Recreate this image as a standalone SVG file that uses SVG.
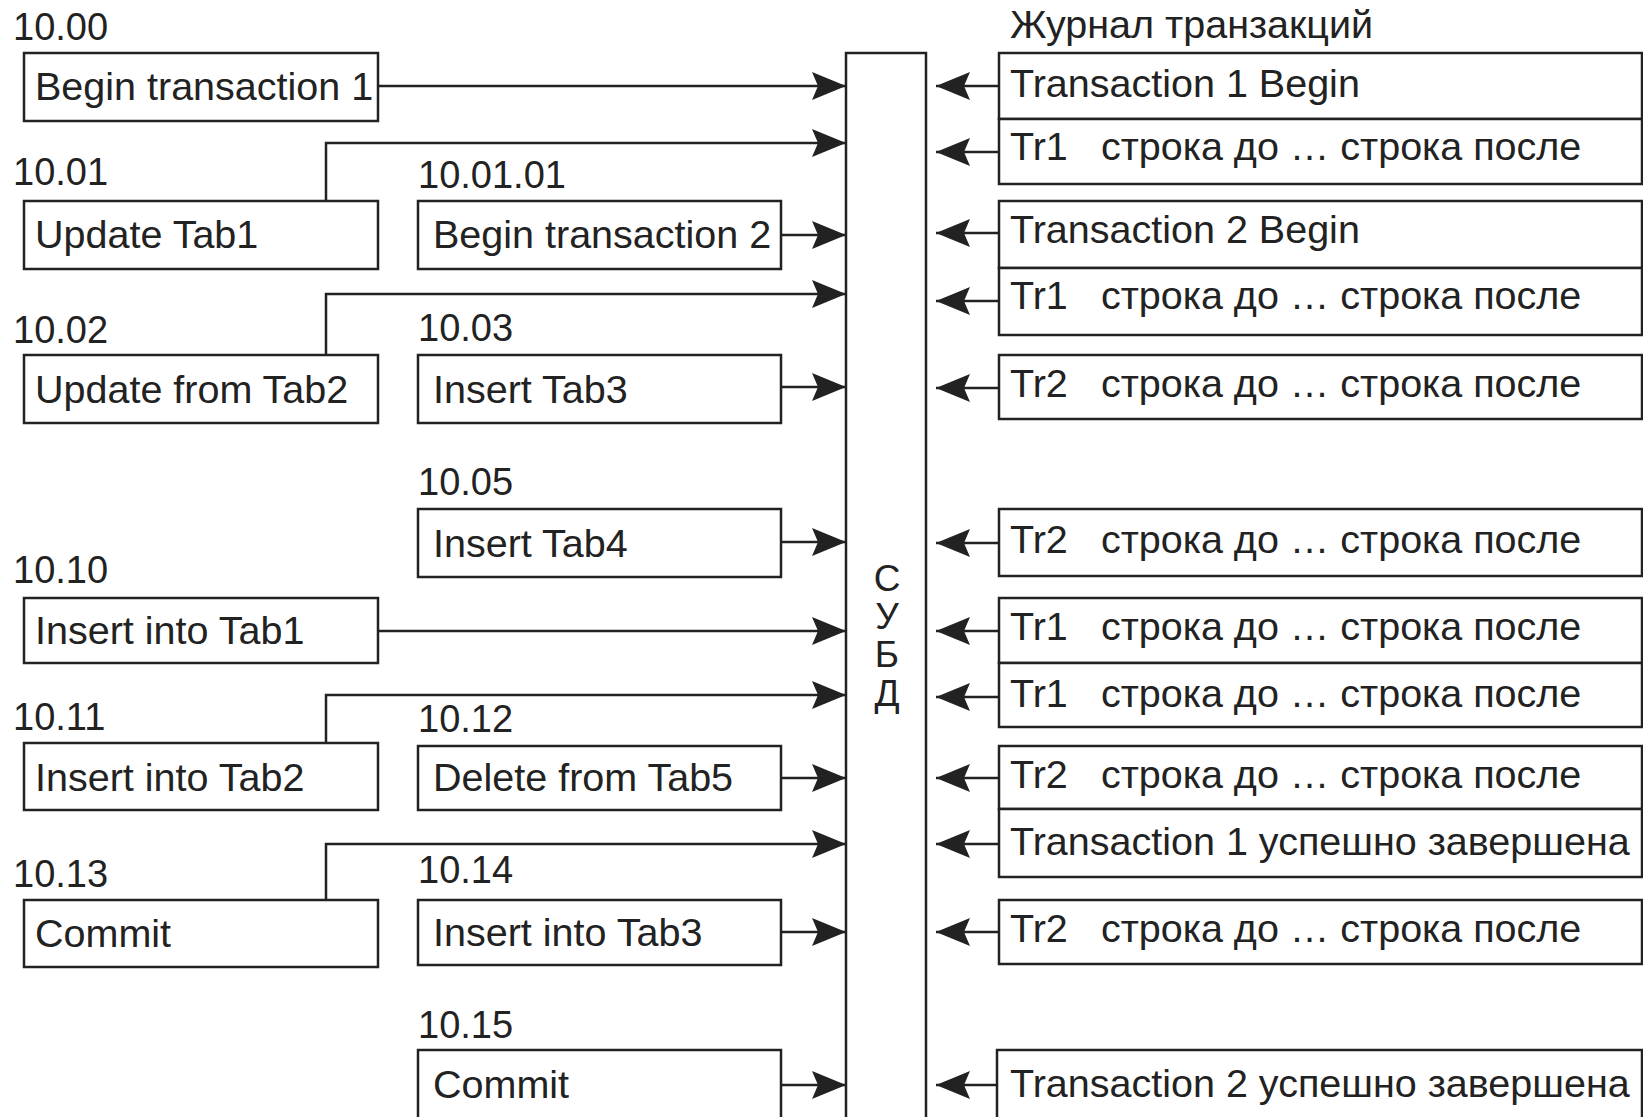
<svg xmlns="http://www.w3.org/2000/svg" width="1643" height="1117" viewBox="0 0 1643 1117">
<defs>
<style>
.bx{fill:#fff;stroke:#222;stroke-width:2.5}
.ln{fill:none;stroke:#222;stroke-width:2.5}
.t{font-family:"Liberation Sans",Arial,sans-serif;font-size:39.5px;fill:#222}
.lb{font-family:"Liberation Sans",Arial,sans-serif;font-size:38px;fill:#222}
.ttl{font-family:"Liberation Sans",Arial,sans-serif;font-size:39.5px;fill:#222}
.v{font-family:"Liberation Sans",Arial,sans-serif;font-size:37px;fill:#222;text-anchor:middle}
</style>
<marker id="ah" markerUnits="userSpaceOnUse" markerWidth="36" markerHeight="30" refX="34" refY="14" orient="auto">
<path d="M0,0 L34,14 L0,28 L6,14 z" fill="#222"/>
</marker>
</defs>
<rect width="1643" height="1117" fill="#fff"/>

<g id="dbms">
<rect class="bx" x="846" y="53" width="80" height="1090"/>
<text class="v" x="887" y="591">С</text>
<text class="v" x="887" y="629">У</text>
<text class="v" x="887" y="667">Б</text>
<text class="v" x="887" y="706">Д</text>
</g>

<g id="connectors">
<line class="ln" x1="378" y1="86" x2="846" y2="86" marker-end="url(#ah)"/>
<polyline class="ln" points="326,201 326,143 846,143" marker-end="url(#ah)"/>
<line class="ln" x1="781" y1="235" x2="846" y2="235" marker-end="url(#ah)"/>
<polyline class="ln" points="326,355 326,294 846,294" marker-end="url(#ah)"/>
<line class="ln" x1="781" y1="387" x2="846" y2="387" marker-end="url(#ah)"/>
<line class="ln" x1="781" y1="542" x2="846" y2="542" marker-end="url(#ah)"/>
<line class="ln" x1="378" y1="631" x2="846" y2="631" marker-end="url(#ah)"/>
<polyline class="ln" points="326,743 326,695 846,695" marker-end="url(#ah)"/>
<line class="ln" x1="781" y1="778" x2="846" y2="778" marker-end="url(#ah)"/>
<polyline class="ln" points="326,900 326,844 846,844" marker-end="url(#ah)"/>
<line class="ln" x1="781" y1="932" x2="846" y2="932" marker-end="url(#ah)"/>
<line class="ln" x1="781" y1="1085" x2="846" y2="1085" marker-end="url(#ah)"/>

<line class="ln" x1="999" y1="86" x2="936" y2="86" marker-end="url(#ah)"/>
<line class="ln" x1="999" y1="152" x2="936" y2="152" marker-end="url(#ah)"/>
<line class="ln" x1="999" y1="233" x2="936" y2="233" marker-end="url(#ah)"/>
<line class="ln" x1="999" y1="301" x2="936" y2="301" marker-end="url(#ah)"/>
<line class="ln" x1="999" y1="388" x2="936" y2="388" marker-end="url(#ah)"/>
<line class="ln" x1="999" y1="543" x2="936" y2="543" marker-end="url(#ah)"/>
<line class="ln" x1="999" y1="631" x2="936" y2="631" marker-end="url(#ah)"/>
<line class="ln" x1="999" y1="697" x2="936" y2="697" marker-end="url(#ah)"/>
<line class="ln" x1="999" y1="778" x2="936" y2="778" marker-end="url(#ah)"/>
<line class="ln" x1="999" y1="844" x2="936" y2="844" marker-end="url(#ah)"/>
<line class="ln" x1="999" y1="932" x2="936" y2="932" marker-end="url(#ah)"/>
<line class="ln" x1="997" y1="1085" x2="936" y2="1085" marker-end="url(#ah)"/>
</g>

<g id="n1000"><text class="lb" x="13" y="40">10.00</text><rect class="bx" x="24" y="53" width="354" height="68"/><text class="t" x="35" y="100">Begin transaction 1</text></g>
<g id="n1001"><text class="lb" x="13" y="185">10.01</text><rect class="bx" x="24" y="201" width="354" height="68"/><text class="t" x="35" y="248">Update Tab1</text></g>
<g id="n100101"><text class="lb" x="418" y="188">10.01.01</text><rect class="bx" x="418" y="201" width="363" height="68"/><text class="t" x="433" y="248">Begin transaction 2</text></g>
<g id="n1002"><text class="lb" x="13" y="343">10.02</text><rect class="bx" x="24" y="355" width="354" height="68"/><text class="t" x="35" y="403">Update from Tab2</text></g>
<g id="n1003"><text class="lb" x="418" y="341">10.03</text><rect class="bx" x="418" y="355" width="363" height="68"/><text class="t" x="433" y="403">Insert Tab3</text></g>
<g id="n1005"><text class="lb" x="418" y="495">10.05</text><rect class="bx" x="418" y="509" width="363" height="68"/><text class="t" x="433" y="557">Insert Tab4</text></g>
<g id="n1010"><text class="lb" x="13" y="583">10.10</text><rect class="bx" x="24" y="598" width="354" height="65"/><text class="t" x="35" y="644">Insert into Tab1</text></g>
<g id="n1011"><text class="lb" x="13" y="730">10.11</text><rect class="bx" x="24" y="743" width="354" height="67"/><text class="t" x="35" y="791">Insert into Tab2</text></g>
<g id="n1012"><text class="lb" x="418" y="732">10.12</text><rect class="bx" x="418" y="746" width="363" height="64"/><text class="t" x="433" y="791">Delete from Tab5</text></g>
<g id="n1013"><text class="lb" x="13" y="887">10.13</text><rect class="bx" x="24" y="900" width="354" height="67"/><text class="t" x="35" y="947">Commit</text></g>
<g id="n1014"><text class="lb" x="418" y="883">10.14</text><rect class="bx" x="418" y="900" width="363" height="65"/><text class="t" x="433" y="946">Insert into Tab3</text></g>
<g id="n1015"><text class="lb" x="418" y="1038">10.15</text><rect class="bx" x="418" y="1050" width="363" height="90"/><text class="t" x="433" y="1098">Commit</text></g>

<g id="log">
<text class="ttl" x="1010" y="38">Журнал транзакций</text>
<rect class="bx" x="999" y="53" width="643" height="66"/><text class="t" x="1010" y="97">Transaction 1 Begin</text>
<rect class="bx" x="999" y="119" width="643" height="65"/><text class="t" x="1010" y="160">Tr1<tspan x="1101">строка до … строка после</tspan></text>
<rect class="bx" x="999" y="201" width="643" height="67"/><text class="t" x="1010" y="243">Transaction 2 Begin</text>
<rect class="bx" x="999" y="268" width="643" height="67"/><text class="t" x="1010" y="309">Tr1<tspan x="1101">строка до … строка после</tspan></text>
<rect class="bx" x="999" y="355" width="643" height="64"/><text class="t" x="1010" y="397">Tr2<tspan x="1101">строка до … строка после</tspan></text>
<rect class="bx" x="999" y="509" width="643" height="67"/><text class="t" x="1010" y="553">Tr2<tspan x="1101">строка до … строка после</tspan></text>
<rect class="bx" x="999" y="598" width="643" height="65"/><text class="t" x="1010" y="640">Tr1<tspan x="1101">строка до … строка после</tspan></text>
<rect class="bx" x="999" y="663" width="643" height="64"/><text class="t" x="1010" y="707">Tr1<tspan x="1101">строка до … строка после</tspan></text>
<rect class="bx" x="999" y="746" width="643" height="63"/><text class="t" x="1010" y="788">Tr2<tspan x="1101">строка до … строка после</tspan></text>
<rect class="bx" x="999" y="809" width="643" height="68"/><text class="t" x="1010" y="855">Transaction 1 успешно завершена</text>
<rect class="bx" x="999" y="900" width="643" height="64"/><text class="t" x="1010" y="942">Tr2<tspan x="1101">строка до … строка после</tspan></text>
<rect class="bx" x="997" y="1050" width="645" height="90"/><text class="t" x="1010" y="1097">Transaction 2 успешно завершена</text>
</g>
</svg>
